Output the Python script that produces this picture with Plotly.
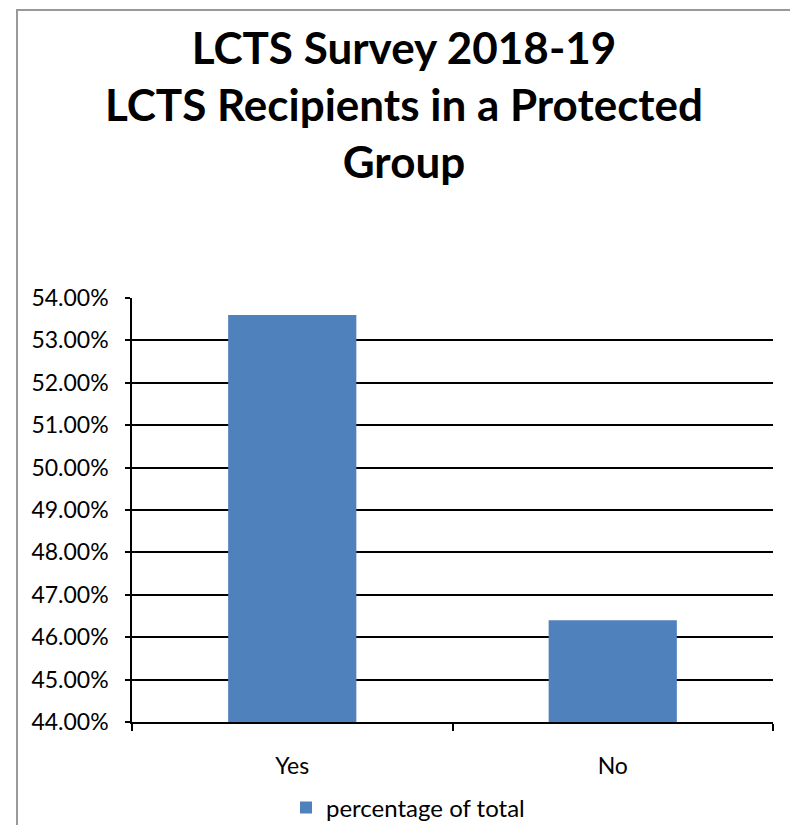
import plotly.graph_objects as go

categories = ["Yes", "No"]
values = [0.536, 0.464]
series_name = "percentage of total"
title_lines = ["LCTS Survey 2018-19", "LCTS Recipients in a Protected", "Group"]

# page body has an 8px margin; size the figure so it fits the 798x833 window
OX, OY = 8, 8
W, H = 782, 817
# plot area in window coordinates: x 132..773, y 298..722
L = 132 - OX
T = 298 - OY
R = W - (773 - OX)
B = H - (722 - OY)
pw, ph = W - L - R, H - T - B

def px_x(x):
    return (x - OX - L) / pw

def px_y(y):
    return (722 - y) / ph

FONT = "Lato, Open Sans, sans-serif"

fig = go.Figure()
fig.add_trace(go.Bar(x=categories, y=values, name=series_name,
                     marker=dict(color="#4F81BD", line=dict(width=0)),
                     showlegend=True))

fig.update_layout(
    width=W, height=H,
    margin=dict(l=L, r=R, t=T, b=B, autoexpand=False),
    paper_bgcolor="white", plot_bgcolor="white",
    font=dict(family=FONT, color="black", size=20),
    title=dict(text="<br>".join(title_lines), x=(404 - OX) / W, xanchor="center",
               y=1 - (64 - OY) / H, yanchor="top", yref="container",
               font=dict(size=44, family=FONT, color="black", weight="bold")),
    bargap=0.6,
    showlegend=True,
    legend=dict(orientation="h", x=px_x(408), xanchor="center", y=px_y(808), yanchor="middle",
                font=dict(size=24), itemwidth=30),
    xaxis=dict(showline=True, linecolor="black", linewidth=1.5, ticks="outside", tickson="boundaries",
               ticklen=7, tickcolor="black", tickwidth=1.5, showgrid=False, automargin=False,
               ticklabelstandoff=23, tickfont=dict(size=23)),
    yaxis=dict(range=[0.44, 0.54], dtick=0.01, tick0=0.44, tickformat=".2%", automargin=False,
               showline=True, linecolor="black", linewidth=1.5, ticks="outside", ticklen=5,
               tickcolor="black", tickwidth=1.5, showgrid=True, gridcolor="black", gridwidth=1.5,
               zeroline=False, tickfont=dict(size=23), ticklabelstandoff=12),
    shapes=[
        dict(type="line", xref="paper", yref="paper",
             x0=px_x(17), x1=px_x(17), y0=px_y(860), y1=px_y(10),
             line=dict(color="#999999", width=2), layer="below"),
        dict(type="line", xref="paper", yref="paper",
             x0=px_x(16), x1=px_x(830), y0=px_y(10), y1=px_y(10),
             line=dict(color="#999999", width=2), layer="below"),
    ],
)

fig.write_html("out.html")
